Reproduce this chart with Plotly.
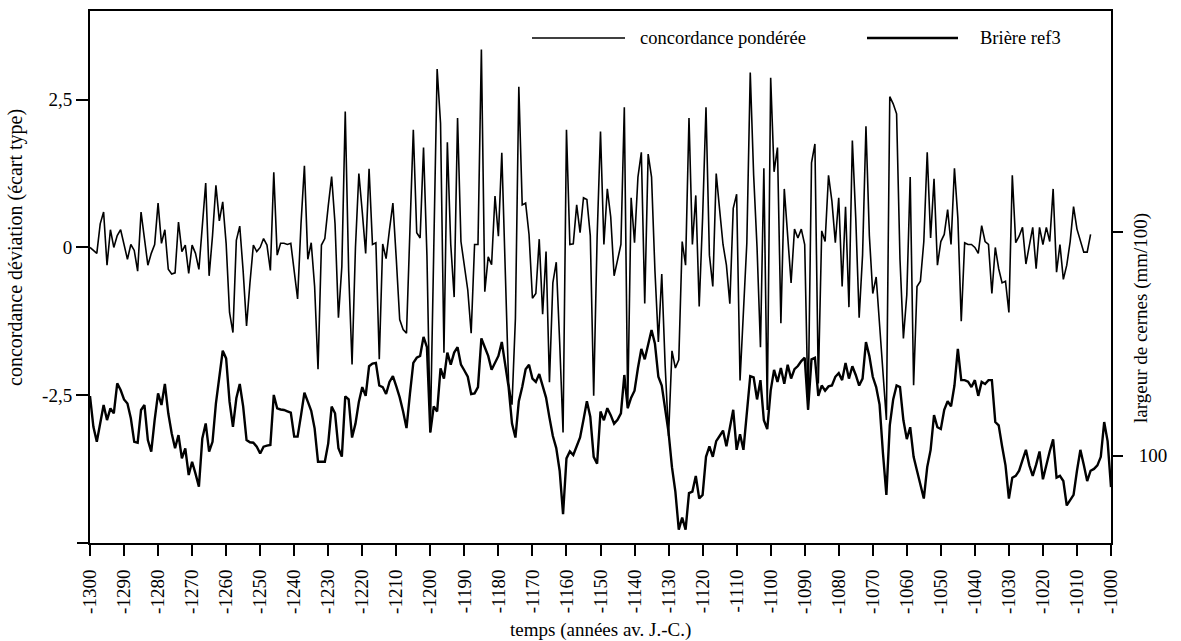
import plotly.graph_objects as go

# ---- data ----
years_conc = list(range(-1300, -1005))
conc = [
    0.0, -0.05, -0.1, 0.4, 0.6, -0.3, 0.3, 0.0, 0.2, 0.3,
    0.05, -0.2, 0.05, -0.05, -0.4, 0.6, 0.15, -0.3, -0.1, 0.05,
    0.75, 0.07, 0.3, -0.37, -0.45, -0.43, 0.43, -0.07, 0.04, -0.44,
    0.04, -0.1, -0.37, 0.3, 1.09, -0.48, 0.2, 1.05, 0.45, 0.77,
    0.07, -1.1, -1.44, 0.12, 0.36, -0.4, -1.33, -0.6, 0.04, -0.07,
    0.0, 0.15, 0.04, -0.39, 1.27, -0.13, 0.07, 0.07, 0.05, 0.07,
    -0.4, -0.87, 0.4, 1.38, -0.2, 0.08, -0.66, -2.06, 0.04, 0.15,
    0.7, 1.2, 0.4, -1.19, -0.32, 2.3, -0.4, -1.98, 0.0, 1.25,
    0.6, -0.1, 1.33, 0.05, 0.08, -1.89, 0.06, -0.19, 0.3, 0.75,
    -0.2, -1.22, -1.39, -1.45, 0.28, 1.99, 0.25, 0.16, 1.69, -0.13,
    -3.13, 0.0, 3.02, 2.1, -1.78, 1.78, 0.05, -0.84, 2.19, 0.1,
    -0.3, -0.72, -1.45, 0.05, 0.05, 3.35, -0.75, -0.16, -0.29, 0.87,
    0.19, 1.6, -0.36, -2.3, -2.66, -1.2, 2.72, 0.72, 0.75, 0.22,
    -0.86, -0.78, 0.14, -1.13, -0.07, -2.28, -0.6, -0.25, -1.6, -3.13,
    1.99, 0.05, 0.06, 0.72, 0.25, 0.84, 0.81, 0.2, -2.51, 0.16,
    1.96, 0.05, 0.99, 0.52, -0.48, -0.22, 0.05, 2.37, -2.72, 0.84,
    0.08, 1.19, 1.61, -0.95, 1.58, 1.19, -0.4, -1.6, -0.45, -2.0,
    -3.19, -1.75, -2.04, -1.9, 0.1, -0.3, 2.19, 0.05, 0.88, -1.0,
    0.5, 2.37, -0.13, -0.66, 1.25, 0.64, 0.05, -0.3, -0.95, 0.66,
    0.9, -2.25, -1.07, 0.08, 2.96, 1.22, 0.0, -1.69, 1.34, -2.75,
    2.87, 1.28, 1.69, -1.28, 0.99, 0.2, -0.6, 0.31, 0.16, 0.31,
    0.05, -2.75, 1.43, 1.75, -2.3, 0.28, 0.1, 1.22, 0.78, 0.08,
    0.84, -0.66, 0.69, -1.01, 1.81, 0.5, -1.19, -0.13, 2.05, 0.2,
    -0.78, -0.5, -1.3, -2.0, -2.92, 2.55, 2.43, 2.26, -0.2, -1.54,
    -0.8, 1.19, -2.33, -0.66, -0.57, 0.1, 1.61, 0.16, 1.16, -0.3,
    0.1, 0.22, 0.64, 0.05, 1.34, 0.5, -1.25, 0.08, 0.05, 0.05,
    0.0, -0.1, 0.37, 0.1, 0.05, -0.78, 0.0, -0.36, -0.6, -0.57,
    -1.1, 1.22, 0.08, 0.19, 0.34, -0.28, 0.0, 0.34, -0.36, 0.34,
    0.05, 0.34, 0.1, 0.99, -0.42, 0.05, -0.54, -0.3, 0.1, 0.69,
    0.31, 0.1, -0.08, -0.08, 0.22,
]

years_briere = list(range(-1300, -999))
briere = [
    126.6, 112.9, 106.2, 113.7, 122.6, 115.9, 121.1, 118.9, 132.3, 129.3,
    125.1, 123.3, 116.7, 106.2, 105.8, 120.4, 122.6, 107.0, 101.8, 116,
    127.8, 122.6, 132.0, 118.9, 110, 103.3, 109.2, 98.8, 103.3, 91.4,
    97.3, 92, 86.2, 107.7, 114.4, 101.8, 106.2, 123.3, 135, 146.8,
    143.4, 124.1, 112.9, 125.6, 132.0, 122, 107, 106, 105.8, 104,
    101, 104, 104.5, 104.8, 127.1, 121.1, 120.6, 120.4, 119.8, 119.2,
    108.5, 108.5, 118, 128.1, 124.1, 120, 112.2, 97.3, 97.3, 97.3,
    105.5, 121.9, 118.9, 103.3, 99.6, 126.5, 125.1, 108.1, 114.3, 124,
    130.6, 126.7, 139.9, 141.1, 141.4, 131.3, 130.6, 127.5, 132.9, 135.5,
    130.9, 126, 119.7, 112.3, 127.5, 141.4, 143.7, 144.5, 153, 148.4,
    110.4, 122, 119.7, 139, 134.4, 146, 140.6, 146, 148.4, 140.6,
    138, 135.2, 127.5, 127.8, 130.6, 152.3, 148.4, 144.5, 138.3, 141.4,
    144.5, 150.7, 141.4, 130.6, 114.3, 108.1, 124.3, 130.6, 138.6, 140.6,
    134.4, 132.9, 136.4, 130.6, 125.9, 117, 108.8, 103.4, 93.3, 73.9,
    98.8, 101.9, 100.3, 104.2, 108.1, 116, 124.3, 117.4, 99.5, 96.4,
    119.7, 115.8, 121.2, 118.1, 114.3, 116, 118.9, 136, 121.2, 125.9,
    129, 139.1, 147.6, 143, 150, 156.1, 149.9, 135.2, 131.3, 119.7,
    110.4, 94.9, 84, 67, 72.4, 67, 83.3, 84, 91, 80.9,
    82.5, 99.5, 104.2, 99.5, 106.5, 108.8, 111.2, 104.2, 112.7, 120.5,
    102.6, 109.6, 102.6, 119.7, 135.5, 134.9, 125.1, 133.7, 115.8, 111.9,
    129, 138.3, 132.9, 139.1, 132.1, 140.6, 134.4, 138.6, 140, 142.2,
    143.7, 120.5, 143, 143.7, 126.7, 131.3, 129, 130.9, 131.3, 135.2,
    136.8, 133.7, 141.4, 134.4, 139.9, 136, 131.3, 134.4, 150.7, 144.5,
    135.2, 130.6, 122.8, 101, 82.5, 113.5, 125.1, 131.3, 130.6, 115.8,
    107.4, 112.7, 99.5, 93.3, 87.1, 80.9, 94.9, 102.6, 118.1, 112.7,
    111.9, 120.5, 124.3, 122, 131.3, 147.6, 133.7, 133.7, 133, 130.6,
    133.7, 126.7, 132.9, 132, 133.7, 133.7, 115, 113.5, 104.2, 95.7,
    80.9, 90.2, 91, 93.3, 98, 102.6, 95.7, 91, 96, 101.9,
    89.5, 96.4, 102, 107.3, 90.2, 91, 88.7, 77.8, 80, 82.5,
    93.3, 102.6, 96, 88.7, 93.3, 94.1, 95.7, 99.5, 115, 106.5,
    86,
]

x_tick_vals = list(range(-1300, -999, 10))
x_tick_text = [str(v) for v in x_tick_vals]
y_tick_vals = [2.5, 0, -2.5]
y_tick_text = ["2,5", "0", "-2,5"]
y2_tick_vals = [100, 200]
y2_tick_text = ["100", ""]

FONT = "Liberation Serif"
W, H = 1181, 641
L, R, T, B = 90, 70, 11, 98
PW, PH = W - L - R, H - T - B


def px(x):
    return (x - L) / PW


def py(y):
    return (H - B - y) / PH


fig = go.Figure()
fig.add_trace(go.Scatter(x=years_conc, y=conc, mode="lines", name="concordance pondérée",
                         line=dict(color="black", width=1.6), yaxis="y"))
fig.add_trace(go.Scatter(x=years_briere, y=briere, mode="lines", name="Brière ref3",
                         line=dict(color="black", width=2.4), yaxis="y2"))

axis_common = dict(showgrid=False, zeroline=False, showline=True, linewidth=2,
                   linecolor="black", ticks="outside", tickwidth=2, tickcolor="black",
                   automargin=False,
                   tickfont=dict(family=FONT, size=19, color="black"))

fig.update_layout(
    width=W, height=H,
    margin=dict(l=L, r=R, t=T, b=B, pad=0, autoexpand=False),
    paper_bgcolor="white", plot_bgcolor="white",
    showlegend=False,
    font=dict(family=FONT, size=19, color="black"),
    xaxis=dict(range=[-1300, -1000], tickmode="array", tickvals=x_tick_vals,
               ticktext=x_tick_text, tickangle=-90, ticklen=11, mirror=True,
               ticklabelstandoff=6, **axis_common),
    yaxis=dict(range=[-5, 4], tickmode="array", tickvals=y_tick_vals,
               ticktext=y_tick_text, ticklen=12, **axis_common),
    yaxis2=dict(range=[61.06, 298.35], overlaying="y", side="right", tickmode="array",
                tickvals=y2_tick_vals, ticktext=y2_tick_text, ticklen=10,
                ticklabelstandoff=12, **axis_common),
)

# extension of the bottom axis line to the left
fig.add_shape(type="line", xref="paper", yref="paper", x0=px(77), x1=0, y0=0, y1=0,
              line=dict(color="black", width=2))

# legend samples
fig.add_shape(type="line", xref="paper", yref="paper", x0=px(532), x1=px(625),
              y0=py(38), y1=py(38), line=dict(color="black", width=1.6))
fig.add_shape(type="line", xref="paper", yref="paper", x0=px(867), x1=px(958),
              y0=py(38), y1=py(38), line=dict(color="black", width=2.4))

ann = dict(xref="paper", yref="paper", showarrow=False,
           font=dict(family=FONT, size=18.5, color="black"))
fig.add_annotation(text="concordance pondérée", x=px(638), y=py(38), xanchor="left",
                   yanchor="middle", **ann)
fig.add_annotation(text="Brière ref3", x=px(978), y=py(38), xanchor="left",
                   yanchor="middle", **ann)
fig.add_annotation(text="concordance déviation (écart type)", x=px(15), y=py(248),
                   textangle=-90, xanchor="center", yanchor="middle",
                   xref="paper", yref="paper", showarrow=False,
                   font=dict(family=FONT, size=20, color="black"))
fig.add_annotation(text="largeur de cernes (mm/100)", x=px(1141), y=py(318),
                   textangle=-90, xanchor="center", yanchor="middle",
                   xref="paper", yref="paper", showarrow=False,
                   font=dict(family=FONT, size=19, color="black"))
fig.add_annotation(text="temps (années av. J.-C.)", x=px(600), y=py(630),
                   xanchor="center", yanchor="middle",
                   xref="paper", yref="paper", showarrow=False,
                   font=dict(family=FONT, size=19, color="black"))

fig.write_html("out.html", config={"displayModeBar": False},
               post_script="document.body.style.margin='0';")
